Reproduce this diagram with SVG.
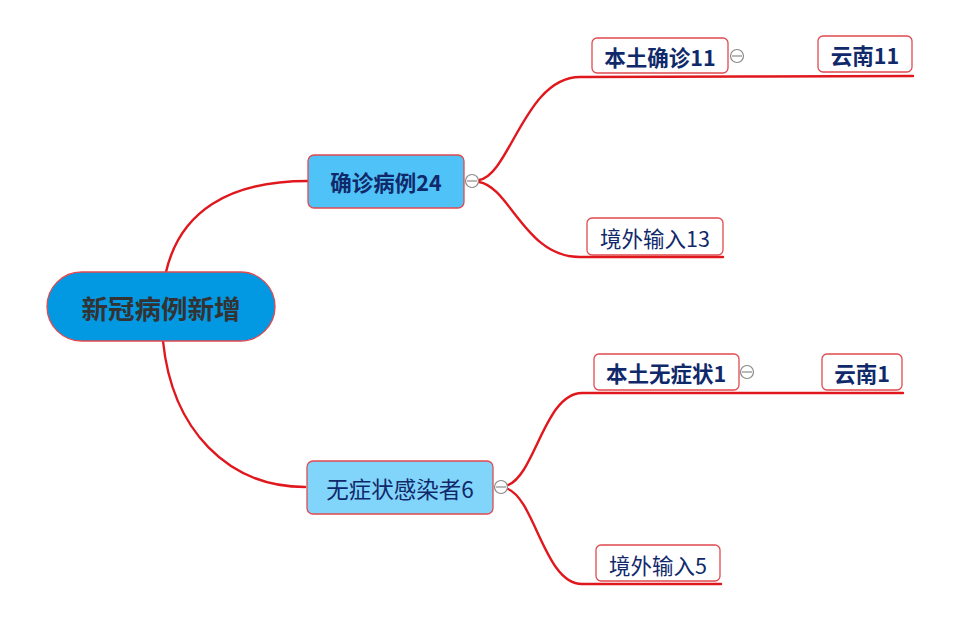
<svg xmlns="http://www.w3.org/2000/svg" width="955" height="627" viewBox="0 0 955 627">
<defs>
<style>
.bg{fill:#ffffff}
.conn{fill:none;stroke:#e0181e;stroke-width:2.4;stroke-linecap:round}
.box{stroke:#e04a50;stroke-width:1.3}
.white{fill:#ffffff}
.t{font-family:"Noto Sans CJK SC","Noto Sans",sans-serif;fill:#10296b;text-anchor:middle;dominant-baseline:central}
.b{font-weight:bold}
.col circle{fill:#ffffff;stroke:#8a8a8a;stroke-width:1.2}
.col line{stroke:#8a8a8a;stroke-width:1.2}
</style>
</defs>
<rect class="bg" x="0" y="0" width="955" height="627"/>
<g id="connectors">
<path class="conn" d="M166,272 C180,212 228,181 308,181"/>
<path class="conn" d="M163,341 C172,430 228,487 305,487"/>
<path class="conn" d="M479,180 C510,175 525,77 580,77 L745,76.5 L913,76"/>
<path class="conn" d="M479,182 C510,187 525,257 580,257 L723,257"/>
<path class="conn" d="M508,485 C535,475 545,393 582,393 L903,393"/>
<path class="conn" d="M508,489 C535,500 545,584 582,584 L721,584"/>
</g>
<g id="root">
<rect x="47" y="272" width="228" height="69" rx="34.5" fill="#0398e2" class="box"/>
<text class="t b" x="161" y="307" font-size="26.5" style="fill:#333333">新冠病例新增</text>
</g>
<g id="confirmed">
<rect x="308" y="155" width="156" height="53" rx="6" fill="#4fc2f8" class="box"/>
<text class="t b" x="386" y="181.5" font-size="21.5">确诊病例24</text>
<g class="col"><circle cx="472" cy="181" r="6.5"/><line x1="467" y1="181" x2="477" y2="181"/></g>
</g>
<g id="local-confirmed">
<rect x="592" y="38" width="136" height="35" rx="5" class="box white"/>
<text class="t b" x="660" y="56" font-size="21.5">本土确诊11</text>
<g class="col"><circle cx="737" cy="56" r="6.5"/><line x1="732" y1="56" x2="742" y2="56"/></g>
</g>
<g id="yunnan11">
<rect x="818" y="36" width="94" height="36" rx="5" class="box white"/>
<text class="t b" x="865" y="54.5" font-size="21.5">云南11</text>
</g>
<g id="imported13">
<rect x="587" y="218" width="136" height="37" rx="5" class="box white"/>
<text class="t" x="655" y="237" font-size="21.5">境外输入13</text>
</g>
<g id="asymptomatic">
<rect x="307" y="461" width="186" height="53" rx="6" fill="#82d5fa" class="box"/>
<text class="t" x="400" y="488" font-size="22.5">无症状感染者6</text>
<g class="col"><circle cx="501" cy="487" r="6.5"/><line x1="496" y1="487" x2="506" y2="487"/></g>
</g>
<g id="local-asymptomatic">
<rect x="594" y="354" width="145" height="36" rx="5" class="box white"/>
<text class="t b" x="666" y="372.5" font-size="21.5">本土无症状1</text>
<g class="col"><circle cx="747" cy="372" r="6.5"/><line x1="742" y1="372" x2="752" y2="372"/></g>
</g>
<g id="yunnan1">
<rect x="822" y="354" width="80" height="36" rx="5" class="box white"/>
<text class="t b" x="862" y="372.5" font-size="21.5">云南1</text>
</g>
<g id="imported5">
<rect x="596" y="545" width="124" height="36" rx="5" class="box white"/>
<text class="t" x="658" y="564" font-size="21.5">境外输入5</text>
</g>
</svg>
